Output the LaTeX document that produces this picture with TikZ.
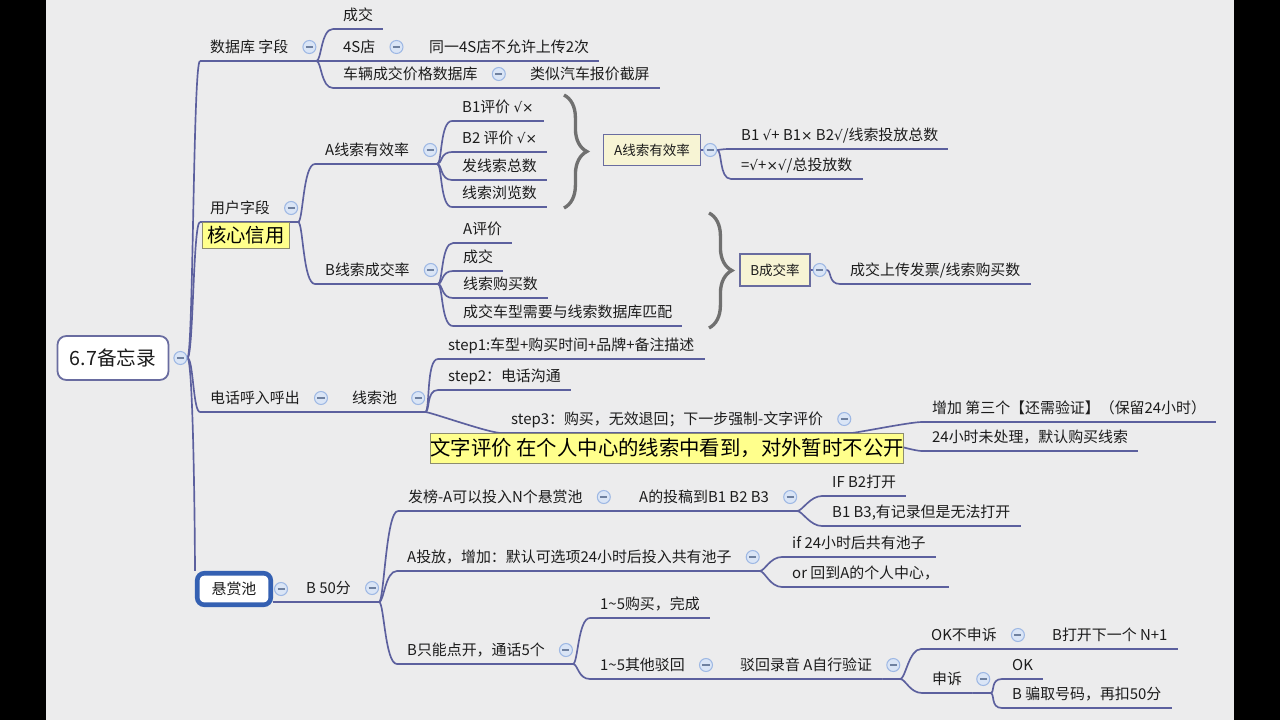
\documentclass[tikz,border=0pt]{standalone}
\usepackage{fontspec}
\setmainfont{Noto Sans CJK SC}
\newfontfamily\cjk{Noto Sans CJK SC}
\newfontfamily\symf{DejaVu Sans}
\usetikzlibrary{positioning,calc,decorations.pathreplacing}

\definecolor{linec}{RGB}{92,96,158}
\definecolor{txt}{RGB}{28,28,28}
\definecolor{foldfill}{RGB}{218,229,246}
\definecolor{folddraw}{RGB}{158,184,228}
\definecolor{sumfill}{RGB}{247,244,212}
\definecolor{sumdraw}{RGB}{105,108,160}
\definecolor{hlfill}{RGB}{255,255,140}
\definecolor{hldraw}{RGB}{140,140,110}
\definecolor{poolblue}{RGB}{52,96,178}
\definecolor{bgc}{RGB}{236,236,237}
\definecolor{bracec}{RGB}{112,112,112}

\pgfdeclarelayer{back}
\pgfdeclarelayer{links}
\pgfsetlayers{back,links,main}

% check and cross marks in the formula texts
\newcommand{\ck}{{\symf\fontsize{7.8}{10}\selectfont √}}
\newcommand{\xx}{{\symf\fontsize{7.8}{10}\selectfont ×}}
% parent underline -> fold -> child underline
\newcommand{\branchto}[2]{\draw[branch] (#1.south east) -- (#1-f.east |- #1.south) .. controls +(5,0) and +(-12,0) .. (#2.south west);}
\newcommand{\sumto}[2]{\draw[branch] (#1.east) -- (#1-f.east) .. controls +(5,0) and +(-12,0) .. (#2.south west);}
\newcommand{\trunkto}[1]{\draw[branch] (root-f.east) .. controls +(6,0) and +(-7,0) .. (#1.south west);}

\begin{document}
\begin{tikzpicture}[x=0.02cm, y=-0.02cm,
  topic/.style={anchor=south west, font=\cjk\fontsize{8.5}{10}\selectfont, text=txt, inner xsep=5.6pt, inner ysep=4.4pt, text height=6.6pt, text depth=0pt},
  branch/.style={draw=linec, line width=0.95pt},
  fold/.style={circle, draw=folddraw, fill=foldfill, line width=0.6pt, minimum size=0.26cm, inner sep=0pt,
    path picture={\draw[folddraw!70!black, line width=0.6pt] ([xshift=-2pt]path picture bounding box.center) -- ([xshift=2pt]path picture bounding box.center);}},
  rootbox/.style={rectangle, rounded corners=5pt, draw=sumdraw, line width=1pt, fill=white, minimum width=2.22cm, minimum height=0.88cm, font=\cjk\fontsize{11.2}{13}\selectfont, text=txt},
  sumbox/.style={rectangle, draw=sumdraw, line width=0.8pt, fill=sumfill, inner sep=0pt, font=\cjk\fontsize{7.7}{9}\selectfont, text=txt},
  hilite/.style={rectangle, draw=hldraw, line width=0.5pt, fill=hlfill, inner sep=0pt, font=\cjk\fontsize{11}{13}\selectfont, text=black},
  poolbox/.style={rectangle, rounded corners=4pt, draw=poolblue, line width=2.6pt, fill=white, minimum width=1.47cm, minimum height=0.63cm, inner sep=0pt, font=\cjk\fontsize{8.5}{10}\selectfont, text=txt},
  brace/.style={draw=bracec, line width=1.9pt, decorate, decoration={brace, amplitude=13pt}},
]

\useasboundingbox (0,0) rectangle (1280,720);

% === root ===
\node[rootbox] (root) at (113,358) {6.7备忘录};
\node[fold] (root-f) at ($(root.east)+(11,0)$) {};

% === 数据库 字段 ===
\node[topic] (db) at (200,61) {数据库 字段};
\node[topic] (c1) at (333,29) {成交};
\node[topic] (c2) at (333,61) {4S店};
\node[topic] (c2a) at (419,61) {同一4S店不允许上传2次};
\node[topic] (c3) at (333,88) {车辆成交价格数据库};
\node[topic] (c3a) at (520,88) {类似汽车报价截屏};

% === 用户字段 ===
\node[topic] (user) at (200,222) {用户字段};
\node[hilite, minimum width=1.74cm, minimum height=0.52cm, below right=0pt and 1pt of user.south west] (core) {核心信用};
\node[topic] (u1) at (315,164) {A线索有效率};
\node[topic] (a1) at (452,121) {B1评价 \ck\xx};
\node[topic] (a2) at (452,152) {B2 评价 \ck\xx};
\node[topic] (a3) at (452,180) {发线索总数};
\node[topic] (a4) at (452,207) {线索浏览数};
\node[sumbox, minimum width=1.94cm, minimum height=0.62cm] (sa) at (652,150) {A线索有效率};
\node[fold] (sa-f) at ($(sa.east)+(9,0)$) {};
\node[topic] (s1) at (731,149) {B1 \ck+ B1\xx{} B2\ck/线索投放总数};
\node[topic] (s2) at (731,179) {=\ck+\xx\ck/总投放数};
\node[topic] (u2) at (315,284) {B线索成交率};
\node[topic] (b1) at (453,243) {A评价};
\node[topic] (b2) at (453,271) {成交};
\node[topic] (b3) at (453,298) {线索购买数};
\node[topic] (b4) at (453,326) {成交车型需要与线索数据库匹配};
\node[sumbox, minimum width=1.4cm, minimum height=0.64cm] (sb) at (775,270) {B成交率};
\node[fold] (sb-f) at ($(sb.east)+(9,0)$) {};
\node[topic] (s3) at (840,284) {成交上传发票/线索购买数};
\draw[brace] (564,95) -- (564,208);
\draw[brace] (709,213) -- (709,328);

% === 电话呼入呼出 ===
\node[topic] (phone) at (200,412) {电话呼入呼出};
\node[topic] (leads) at (342,412) {线索池};
\node[topic] (p1) at (438,359) {step1:车型+购买时间+品牌+备注描述};
\node[topic] (p2) at (438,390) {step2：电话沟通};
\node[topic] (p3) at (501,433) {step3：购买，无效退回；下一步强制-文字评价};
\node[hilite, font=\cjk\fontsize{11.6}{13}\selectfont, minimum width=9.38cm, minimum height=0.6cm, below=0pt of p3] (note) {文字评价 在个人中心的线索中看到，对外暂时不公开};
\node[topic] (q1) at (922,422) {增加 第三个【还需验证】（保留24小时）};
\node[topic] (q2) at (922,451) {24小时未处理，默认购买线索};

% === 悬赏池 ===
\node[poolbox] (pool) at (234,589) {悬赏池};
\node[fold] (pool-f) at ($(pool.east)+(8,0)$) {};
\node[topic] (b50) at (296,602) {B 50分};
\node[topic] (r1) at (398,511) {发榜-A可以投入N个悬赏池};
\node[topic] (r1a) at (629,511) {A的投稿到B1 B2 B3};
\node[topic] (r1a1) at (822,496) {IF B2打开};
\node[topic] (r1a2) at (822,526) {B1 B3,有记录但是无法打开};
\node[topic] (r2) at (397,571) {A投放，增加：默认可选项24小时后投入共有池子};
\node[topic] (r2a) at (782,557) {if 24小时后共有池子};
\node[topic] (r2b) at (782,587) {or 回到A的个人中心，};
\node[topic] (r3) at (397,664) {B只能点开，通话5个};
\node[topic] (r3a) at (590,618) {1\textasciitilde5购买，完成};
\node[topic] (r3b) at (590,679) {1\textasciitilde5其他驳回};
\node[topic] (r3c) at (730,679) {驳回录音 A自行验证};
\node[topic] (t1) at (921,649) {OK不申诉};
\node[topic] (t1a) at (1042,649) {B打开下一个 N+1};
\node[topic] (t2) at (922,693) {申诉};
\node[topic] (t2a) at (1002,679) {OK};
\node[topic] (t2b) at (1002,708) {B 骗取号码，再扣50分};

% fold buttons
\foreach \n in {db,c2,c3,user,u1,u2,phone,leads,p3,b50,r1,r1a,r2,r3,r3b,r3c,t1,t2}
  \node[fold] (\n-f) at ($(\n.south east)+(11,-14)$) {};

\begin{pgfonlayer}{back}
  \fill[bgc] (46,0) rectangle (1234,720);
  \fill[black] (0,0) rectangle (46,720);
  \fill[black] (1234,0) rectangle (1280,720);
\end{pgfonlayer}

\begin{pgfonlayer}{links}
  % underlines
  \foreach \n in {db,c1,c2,c2a,c3,c3a,user,u1,a1,a2,a3,a4,s1,s2,u2,b1,b2,b3,b4,s3,phone,leads,p1,p2,p3,q1,q2,b50,r1,r1a,r1a1,r1a2,r2,r2a,r2b,r3,r3a,r3b,r3c,t1,t1a,t2,t2a,t2b}
    {\draw[branch] (\n.south west) -- (\n.south east);}
  % trunk
  \trunkto{db}
  \trunkto{user}
  \trunkto{phone}
  \draw[branch] (root-f.east) .. controls +(6,0) and +(0,-30) .. (pool.north west);
  % branches
  \foreach \c in {c1,c2,c3} {\branchto{db}{\c}}
  \branchto{c2}{c2a}
  \branchto{c3}{c3a}
  \branchto{user}{u1}
  \branchto{user}{u2}
  \foreach \c in {a1,a2,a3,a4} {\branchto{u1}{\c}}
  \foreach \c in {b1,b2,b3,b4} {\branchto{u2}{\c}}
  \sumto{sa}{s1}
  \sumto{sa}{s2}
  \sumto{sb}{s3}
  \branchto{phone}{leads}
  \foreach \c in {p1,p2,p3} {\branchto{leads}{\c}}
  \branchto{p3}{q1}
  \branchto{p3}{q2}
  \draw[branch] (pool.east |- b50.south) -- (b50.south west);
  \foreach \c in {r1,r2,r3} {\branchto{b50}{\c}}
  \branchto{r1}{r1a}
  \branchto{r1a}{r1a1}
  \branchto{r1a}{r1a2}
  \branchto{r2}{r2a}
  \branchto{r2}{r2b}
  \branchto{r3}{r3a}
  \branchto{r3}{r3b}
  \branchto{r3b}{r3c}
  \branchto{r3c}{t1}
  \branchto{r3c}{t2}
  \branchto{t1}{t1a}
  \branchto{t2}{t2a}
  \branchto{t2}{t2b}
\end{pgfonlayer}

\end{tikzpicture}
\end{document}
